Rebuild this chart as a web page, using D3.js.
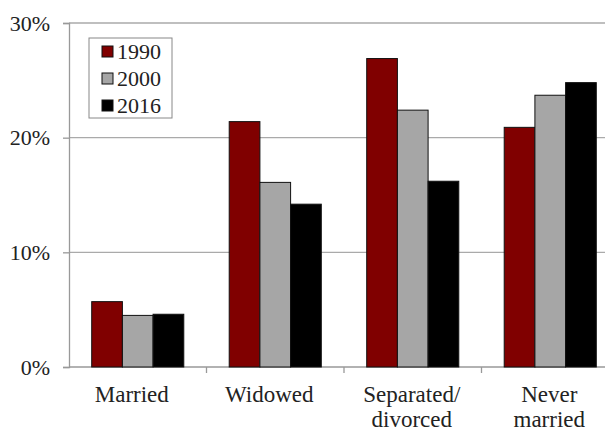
<!DOCTYPE html>
<html>
<head>
<meta charset="utf-8">
<script src="https://cdn.jsdelivr.net/npm/d3@7"></script>
<style>
  body { margin: 0; background: #fff; }
  text { font-family: "Liberation Serif", "Times New Roman", serif; fill: #222; }
</style>
</head>
<body>
<script>
var categories = [["Married"], ["Widowed"], ["Separated/", "divorced"], ["Never", "married"]];
var years = ["1990", "2000", "2016"];
var colors = ["#800000", "#a6a6a6", "#000000"];
var values1990 = [5.7, 21.4, 26.9, 20.9];
var values2000 = [4.5, 16.1, 22.4, 23.7];
var values2016 = [4.6, 14.2, 16.2, 24.8];
var yTicks = [0, 10, 20, 30];

var svgWidth = 605;
var svgHeight = 431;
var margin = { top: 23, right: -14, bottom: 64, left: 69 };
var width = svgWidth - margin.left - margin.right;
var height = svgHeight - margin.top - margin.bottom;

var svg = d3.select("body").append("svg")
  .attr("width", svgWidth)
  .attr("height", svgHeight);

var chartGroup = svg.append("g")
  .attr("transform", `translate(${margin.left}, ${margin.top})`);

var series = [values1990, values2000, values2016];

var xScale = d3.scaleBand().domain(d3.range(categories.length)).range([0, width]);
var xInner = d3.scaleBand().domain(d3.range(years.length))
  .range([0, xScale.bandwidth()]).paddingOuter(0.74);
var yScale = d3.scaleLinear().domain([0, 30]).range([height, 0]);

// gridlines
chartGroup.selectAll(".grid")
  .data(yTicks.slice(1))
  .enter()
  .append("line")
  .attr("x1", 0)
  .attr("x2", width)
  .attr("y1", d => yScale(d))
  .attr("y2", d => yScale(d))
  .attr("stroke", "#aaa")
  .attr("stroke-width", 1.3);

// y axis
var leftAxis = d3.axisLeft(yScale).tickValues(yTicks).tickSize(6).tickFormat(d => d + "%");
var yAxis = chartGroup.append("g").call(leftAxis)
  .attr("font-family", "'Liberation Serif', serif")
  .attr("font-size", 22);
yAxis.select(".domain").attr("stroke", "#999").attr("stroke-width", 1.3);
yAxis.selectAll(".tick line").attr("stroke", "#999").attr("stroke-width", 1.3);
yAxis.selectAll(".tick text")
  .attr("x", -19)
  .attr("fill", "#222");

// x axis line + ticks between categories
chartGroup.append("line")
  .attr("x1", 0).attr("x2", width)
  .attr("y1", height).attr("y2", height)
  .attr("stroke", "#999").attr("stroke-width", 1.3);

chartGroup.selectAll(".xtick")
  .data(d3.range(1, categories.length))
  .enter()
  .append("line")
  .attr("x1", d => xScale(d))
  .attr("x2", d => xScale(d))
  .attr("y1", height).attr("y2", height + 6)
  .attr("stroke", "#999").attr("stroke-width", 1.3);

// bars
series.forEach(function(vals, s) {
  chartGroup.selectAll(".bar" + s)
    .data(vals)
    .enter()
    .append("rect")
    .attr("x", (d, i) => xScale(i) + xInner(s))
    .attr("width", xInner.bandwidth())
    .attr("y", d => yScale(d))
    .attr("height", d => height - yScale(d))
    .attr("fill", colors[s])
    .attr("stroke", "#111")
    .attr("stroke-width", 1);
});

// category labels
var labels = chartGroup.selectAll(".cat")
  .data(categories)
  .enter()
  .append("text")
  .attr("text-anchor", "middle")
  .style("font-size", "23px")
  .attr("transform", (d, i) => `translate(${xScale(i) + xScale.bandwidth() / 2 - (d.length === 1 ? 6 : 1)}, ${height + 35})`);

labels.selectAll("tspan")
  .data(d => d)
  .enter()
  .append("tspan")
  .attr("x", 0)
  .attr("y", (d, j) => j * 25)
  .text(d => d);

// legend
var legend = svg.append("g").attr("transform", "translate(89, 38)");
legend.append("rect")
  .attr("width", 83).attr("height", 80)
  .attr("fill", "#fff").attr("stroke", "#888").attr("stroke-width", 1);

years.forEach(function(y, s) {
  legend.append("rect")
    .attr("x", 13).attr("y", 8 + s * 27)
    .attr("width", 11).attr("height", 11)
    .attr("fill", colors[s]).attr("stroke", "#111").attr("stroke-width", 1);
  legend.append("text")
    .attr("x", 28).attr("y", 21 + s * 27)
    .style("font-size", "22px")
    .text(y);
});
</script>
</body>
</html>
